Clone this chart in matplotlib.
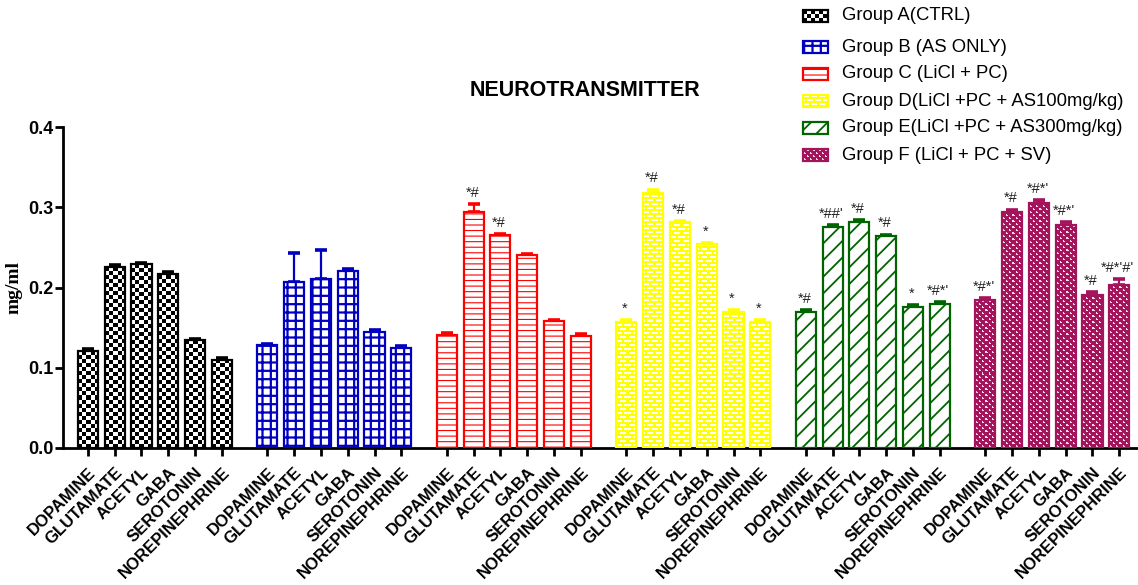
import numpy as np
import matplotlib
matplotlib.use("Agg")
import matplotlib.pyplot as plt
from matplotlib.patches import Rectangle

plt.rcParams['font.family'] = ['Liberation Sans', 'DejaVu Sans']

# data (mg/ml)
transmitters = ["DOPAMINE", "GLUTAMATE", "ACETYL", "GABA", "SEROTONIN", "NOREPINEPHRINE"]
group_names = ["Group A(CTRL)", "Group B (AS ONLY)", "Group C (LiCl + PC)",
               "Group D(LiCl +PC + AS100mg/kg)", "Group E(LiCl +PC + AS300mg/kg)",
               "Group F (LiCl + PC + SV)"]

group_a = [0.121, 0.226, 0.229, 0.217, 0.134, 0.110]
group_b = [0.128, 0.207, 0.210, 0.221, 0.145, 0.125]
group_c = [0.141, 0.294, 0.265, 0.240, 0.158, 0.140]
group_d = [0.157, 0.318, 0.281, 0.254, 0.170, 0.157]
group_e = [0.170, 0.276, 0.282, 0.264, 0.176, 0.180]
group_f = [0.185, 0.294, 0.305, 0.278, 0.191, 0.203]

err_a = [0.002, 0.002, 0.002, 0.002, 0.002, 0.002]
err_b = [0.002, 0.036, 0.037, 0.002, 0.002, 0.002]
err_c = [0.002, 0.010, 0.002, 0.002, 0.002, 0.002]
err_d = [0.002, 0.004, 0.002, 0.002, 0.002, 0.003]
err_e = [0.002, 0.002, 0.002, 0.002, 0.002, 0.002]
err_f = [0.002, 0.003, 0.004, 0.003, 0.003, 0.007]

sig_a = ["", "", "", "", "", ""]
sig_b = ["", "", "", "", "", ""]
sig_c = ["", "*#", "*#", "", "", ""]
sig_d = ["*", "*#", "*#", "*", "*", "*"]
sig_e = ["*#", "*##'", "*#", "*#", "*", "*#*'"]
sig_f = ["*#*'", "*#", "*#*'", "*#*'", "*#", "*#*'#'"]

values = [group_a, group_b, group_c, group_d, group_e, group_f]
errors = [err_a, err_b, err_c, err_d, err_e, err_f]
sigs = [sig_a, sig_b, sig_c, sig_d, sig_e, sig_f]


def checker_tile():
    t = np.ones((8, 8, 3))
    r, c = np.indices((8, 8))
    t[((r // 4) + (c // 4)) % 2 == 0] = 0.0
    return t


def brick_tile():
    t = np.ones((8, 8, 3))
    t[:, :] = (1.0, 1.0, 0.0)
    t[2:4, 0:6] = 1.0
    t[6:8, 4:8] = 1.0
    t[6:8, 0:2] = 1.0
    return t


def dots_tile():
    t = np.ones((6, 6, 3))
    t[:, :] = (0.64, 0.08, 0.36)
    for (i, j) in [(1, 1), (1, 2), (2, 1), (4, 4), (4, 5), (5, 4)]:
        t[i, j] = (1.0, 0.85, 0.92)
    return t


# colour, hatch or tile image for each group
colors = ["black", "#0000BE", "#FF0000", "#FFFF00", "#006400", "#A3145C"]
fills = [checker_tile(), "++", "---", brick_tile(), "//", dots_tile()]
hatch_lw = [1.0, 1.6, 0.8, 1.0, 1.3, 1.0]


def pattern_fill(axis, x0, y0, w, h, tile, z):
    p0 = axis.transData.transform((x0, y0))
    p1 = axis.transData.transform((x0 + w, y0 + h))
    nx = max(int(round(p1[0] - p0[0])), 1)
    ny = max(int(round(p1[1] - p0[1])), 1)
    th, tw = tile.shape[:2]
    img = np.tile(tile, (ny // th + 1, nx // tw + 1, 1))[:ny, :nx]
    axis.imshow(img, extent=(x0, x0 + w, y0, y0 + h), origin='lower',
                aspect='auto', interpolation='nearest', zorder=z)


W, H = 1138, 585
fig = plt.figure(figsize=(W / 100, H / 100), dpi=100)
ax = fig.add_axes([63 / W, 1 - 448 / H, 1 - 63 / W, (448 - 127) / H])
ax.set_xlim(-0.93, 39.2)
ax.set_ylim(0, 0.4)
ax.set_autoscale_on(False)

GAP = 6.7
WIDTH = 0.75
all_x = []
for g in range(6):
    xs = g * GAP + np.arange(6)
    all_x.extend(xs)
    vals = np.array(values[g])
    errs = np.array(errors[g])
    ax.errorbar(xs, vals, yerr=[np.zeros(6), errs], fmt='none', ecolor=colors[g],
                elinewidth=1.6, capsize=4.3, capthick=2.6, zorder=2)
    if isinstance(fills[g], str):
        plt.rcParams['hatch.linewidth'] = hatch_lw[g]
        bars = ax.bar(xs, vals, WIDTH, facecolor='white', edgecolor=colors[g],
                      hatch=fills[g], linewidth=1.6, zorder=3)
        for b in bars:
            if hasattr(b, "set_hatch_linewidth"):
                b.set_hatch_linewidth(hatch_lw[g])
    else:
        bars = ax.bar(xs, vals, WIDTH, facecolor='none', edgecolor=colors[g],
                      linewidth=1.6, zorder=3)
        for b in bars:
            pattern_fill(ax, b.get_x(), 0, b.get_width(), b.get_height(), fills[g], 2.5)
    for x, v, e, s in zip(xs, vals, errs, sigs[g]):
        if s:
            ax.annotate(s, (x, v + e), xytext=(-1, 3), textcoords='offset points',
                        ha='center', va='bottom', fontsize=10.5, color='#222222')

ax.set_xticks(all_x)
ax.set_xticklabels(transmitters * 6, rotation=45, ha='right', rotation_mode='anchor',
                   fontsize=12, fontweight='bold')
ax.set_yticks([0.0, 0.1, 0.2, 0.3, 0.4])
ax.set_yticklabels(["0.0", "0.1", "0.2", "0.3", "0.4"], fontsize=13, fontweight='bold')
ax.spines['top'].set_visible(False)
ax.spines['right'].set_visible(False)
ax.spines['left'].set_linewidth(2)
ax.spines['bottom'].set_linewidth(2)
ax.tick_params(width=2, length=6, direction='out')
ax.tick_params(axis='y', pad=1)
ax.tick_params(axis='x', pad=6)
ax.set_ylabel("mg/ml", family=['Liberation Serif'], fontweight='bold', fontsize=14, labelpad=4)

fig.text(585 / W, 1 - 91 / H, "NEUROTRANSMITTER", ha='center', va='center',
         fontsize=15.5, fontweight='bold')

# legend drawn by hand so the tile patterns show in the swatches
lax = fig.add_axes([0, 0, 1, 1], zorder=5)
lax.set_xlim(0, W)
lax.set_ylim(0, H)
lax.set_autoscale_on(False)
lax.axis('off')
leg_y = [16, 47, 74, 101, 128, 155]
for g in range(6):
    yc = H - leg_y[g]
    if isinstance(fills[g], str):
        plt.rcParams['hatch.linewidth'] = hatch_lw[g]
        r = Rectangle((803, yc - 6), 25, 12, facecolor='white', edgecolor=colors[g],
                      hatch=fills[g], linewidth=1.6)
        if hasattr(r, "set_hatch_linewidth"):
            r.set_hatch_linewidth(hatch_lw[g])
        lax.add_patch(r)
    else:
        pattern_fill(lax, 803, yc - 6, 25, 12, fills[g], 1)
        lax.add_patch(Rectangle((803, yc - 6), 25, 12, facecolor='none',
                                edgecolor=colors[g], linewidth=1.6, zorder=2))
    lax.text(842, yc, group_names[g], ha='left', va='center', fontsize=13.3)

fig.savefig("out.png", dpi=100)
